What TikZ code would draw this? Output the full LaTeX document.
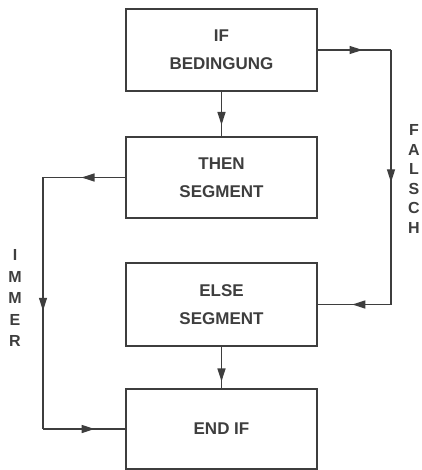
\documentclass[tikz,border=0pt]{standalone}
\usepackage{fontspec}
\setmainfont{Liberation Sans}
\usetikzlibrary{arrows.meta,decorations.markings}

\definecolor{ink}{HTML}{3E3E3E}

\tikzset{
  block/.style={draw=ink, line width=2pt, minimum width=191pt, inner sep=0pt,
    align=center, text=ink, font=\fontsize{17}{28}\selectfont\bfseries},
  flow/.style={draw=ink, line width=1.3pt},
  arrowat/.style={postaction={decorate}, decoration={markings,
    mark=at position #1 with {\arrow{Triangle[length=13pt,width=8pt]}}}},
  sidelabel/.style={align=center, text=ink, inner sep=0pt}
}

\begin{document}
\begin{tikzpicture}[x=1pt,y=-1pt]
  \useasboundingbox (0,0) rectangle (421,470);

  % the four blocks of the IF construct
  \node[block, minimum height=82pt] (IF)   at (221.5,50)    {IF\\BEDINGUNG};
  \node[block, minimum height=81pt] (THEN) at (221.5,177.5) {THEN\\SEGMENT};
  \node[block, minimum height=83pt] (ELSE) at (221.5,304.5) {ELSE\\SEGMENT};
  \node[block, minimum height=80pt] (END)  at (221.5,429)   {END IF};

  % columns of the side loops
  \coordinate (rx) at (391,0);
  \coordinate (lx) at (43,0);

  % straight flow
  \draw[flow, arrowat=0.75] (IF.south) -- (THEN.north);
  \draw[flow, arrowat=0.84] (ELSE.south) -- (END.north);

  % false branch on the right
  \draw[flow, arrowat=0.61] (IF.east) -- (IF.east -| rx);
  \draw[flow, arrowat=0.52] (IF.east -| rx) -- (ELSE.east -| rx);
  \draw[flow, arrowat=0.53] (ELSE.east -| rx) -- (ELSE.east);

  % always branch on the left
  \draw[flow, arrowat=0.53] (THEN.west) -- (THEN.west -| lx);
  \draw[flow, arrowat=0.53] (THEN.west -| lx) -- (END.west -| lx);
  \draw[flow, arrowat=0.63] (END.west -| lx) -- (END.west);

  % vertical branch labels
  \node[sidelabel, font=\fontsize{16}{19.6}\selectfont\bfseries] (falsch) at (414,179)
    {F\\A\\L\\S\\C\\H};
  \node[sidelabel, font=\fontsize{16}{21.5}\selectfont\bfseries] (immer) at (15,298)
    {I\\M\\M\\E\\R};
\end{tikzpicture}
\end{document}
